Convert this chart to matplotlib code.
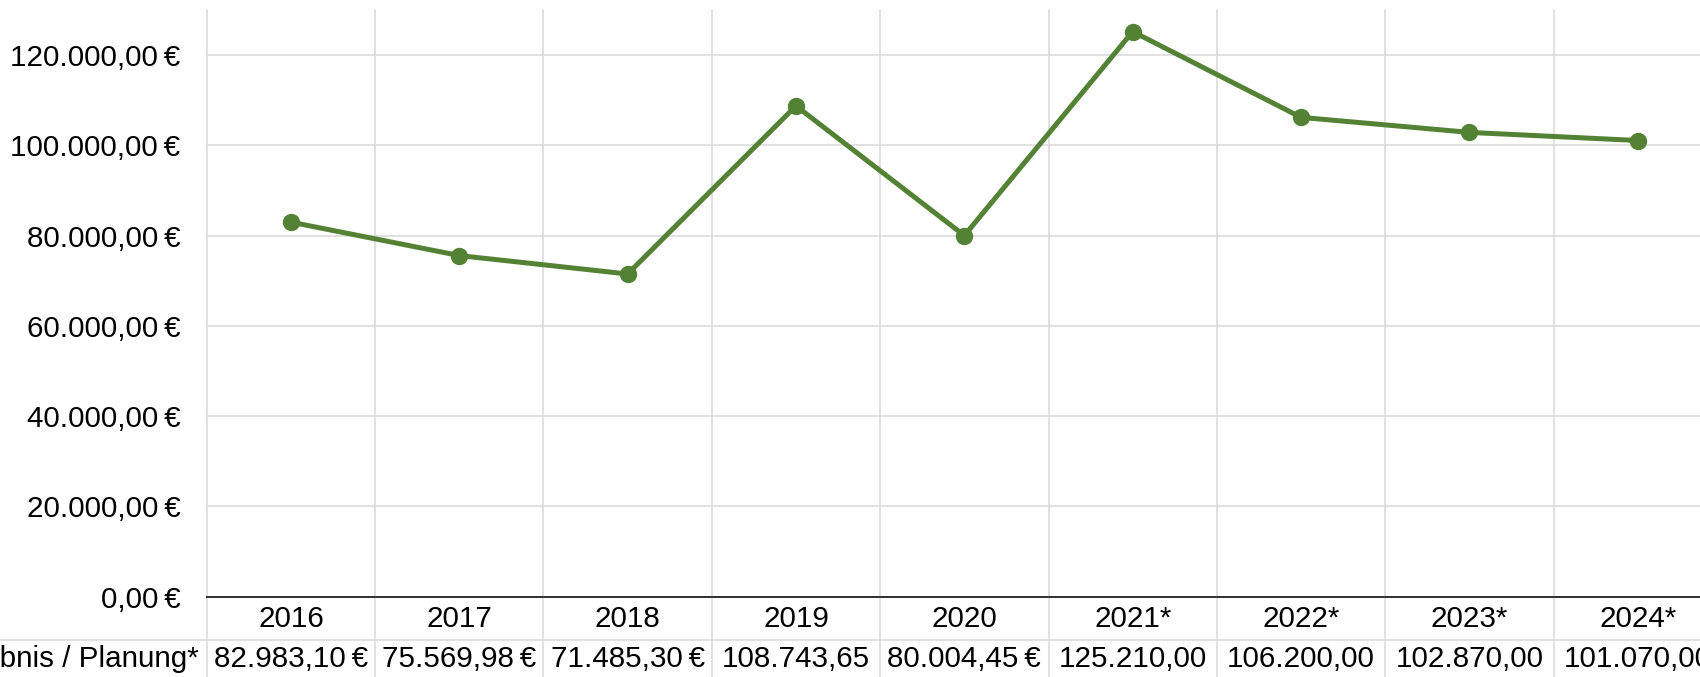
import numpy as np
import matplotlib
matplotlib.use("Agg")
import matplotlib.pyplot as plt
import matplotlib.transforms as mtransforms
from matplotlib.ticker import FuncFormatter

# data
years = ["2016", "2017", "2018", "2019", "2020", "2021*", "2022*", "2023*", "2024*"]
results = [82983.10, 75569.98, 71485.30, 108743.65, 80004.45,
           125210.00, 106200.00, 102870.00, 101070.00]
row_label = "Ergebnis / Planung*"
y_ticks = [0, 20000, 40000, 60000, 80000, 100000, 120000]

LINE_GREEN = "#548235"
GRID_GREY = "#d9d9d9"
FS = 21.3

plt.rcParams['font.family'] = ['Liberation Sans', 'DejaVu Sans']


def euro(v, with_sign=True):
    # german number format: 12.345,67 €
    s = f"{v:,.2f}".replace(",", "X").replace(".", ",").replace("X", ".")
    return s + "\u2009€" if with_sign else s


W_PX, H_PX = 1700, 677
fig = plt.figure(figsize=(W_PX / 100, H_PX / 100), dpi=100)

left_px, right_px = 206.7, 1722.0
zero_px, top_px = 596.5, 10.0
ax = fig.add_axes([left_px / W_PX, 1 - zero_px / H_PX,
                   (right_px - left_px) / W_PX, (zero_px - top_px) / H_PX])

x = np.arange(len(years))
ax.plot(x, results, color=LINE_GREEN, lw=3.6, marker="o", ms=11.5,
        zorder=5, clip_on=False)

ax.set_xlim(-0.5, len(years) - 0.5)
ax.set_ylim(0, 130000)
ax.set_yticks(y_ticks)
ax.yaxis.set_major_formatter(FuncFormatter(lambda v, p: euro(v)))
ax.yaxis.grid(True, color=GRID_GREY, lw=1.1)
ax.set_axisbelow(True)

for s in ["top", "right", "left"]:
    ax.spines[s].set_visible(False)
ax.spines["bottom"].set_color("#303030")
ax.spines["bottom"].set_linewidth(1.4)
ax.spines["bottom"].set_zorder(4)

ax.set_xticks(x)
ax.set_xticklabels(years)
ax.tick_params(axis="both", length=0, labelsize=FS, colors="black")
ax.tick_params(axis="x", pad=6)
ax.tick_params(axis="y", pad=19)

# data table below the axis
axes_h = zero_px - top_px
axes_w = right_px - left_px
bottom_y = -(H_PX - zero_px) / axes_h - 0.05
for b in np.arange(-0.5, len(years)):
    ax.axvline(b, ymin=bottom_y, ymax=1, color=GRID_GREY, lw=1.1,
               clip_on=False, zorder=0)

sep_y = -(640 - zero_px) / axes_h
ax.plot([-left_px / axes_w - 0.01, 1], [sep_y, sep_y], transform=ax.transAxes,
        color=GRID_GREY, lw=1.1, clip_on=False, zorder=0)

trans = mtransforms.blended_transform_factory(ax.transData, ax.transAxes)
val_y = -(659 - zero_px) / axes_h
for i, v in enumerate(results):
    # six-digit values did not fit their cell, so the € sign is dropped
    ax.text(i, val_y, euro(v, with_sign=v < 100000), transform=trans,
            ha="center", va="center", fontsize=FS)
ax.text(-(left_px - 199) / axes_w, val_y, row_label, transform=ax.transAxes,
        ha="right", va="center", fontsize=FS)

fig.savefig("out.png", dpi=100)
